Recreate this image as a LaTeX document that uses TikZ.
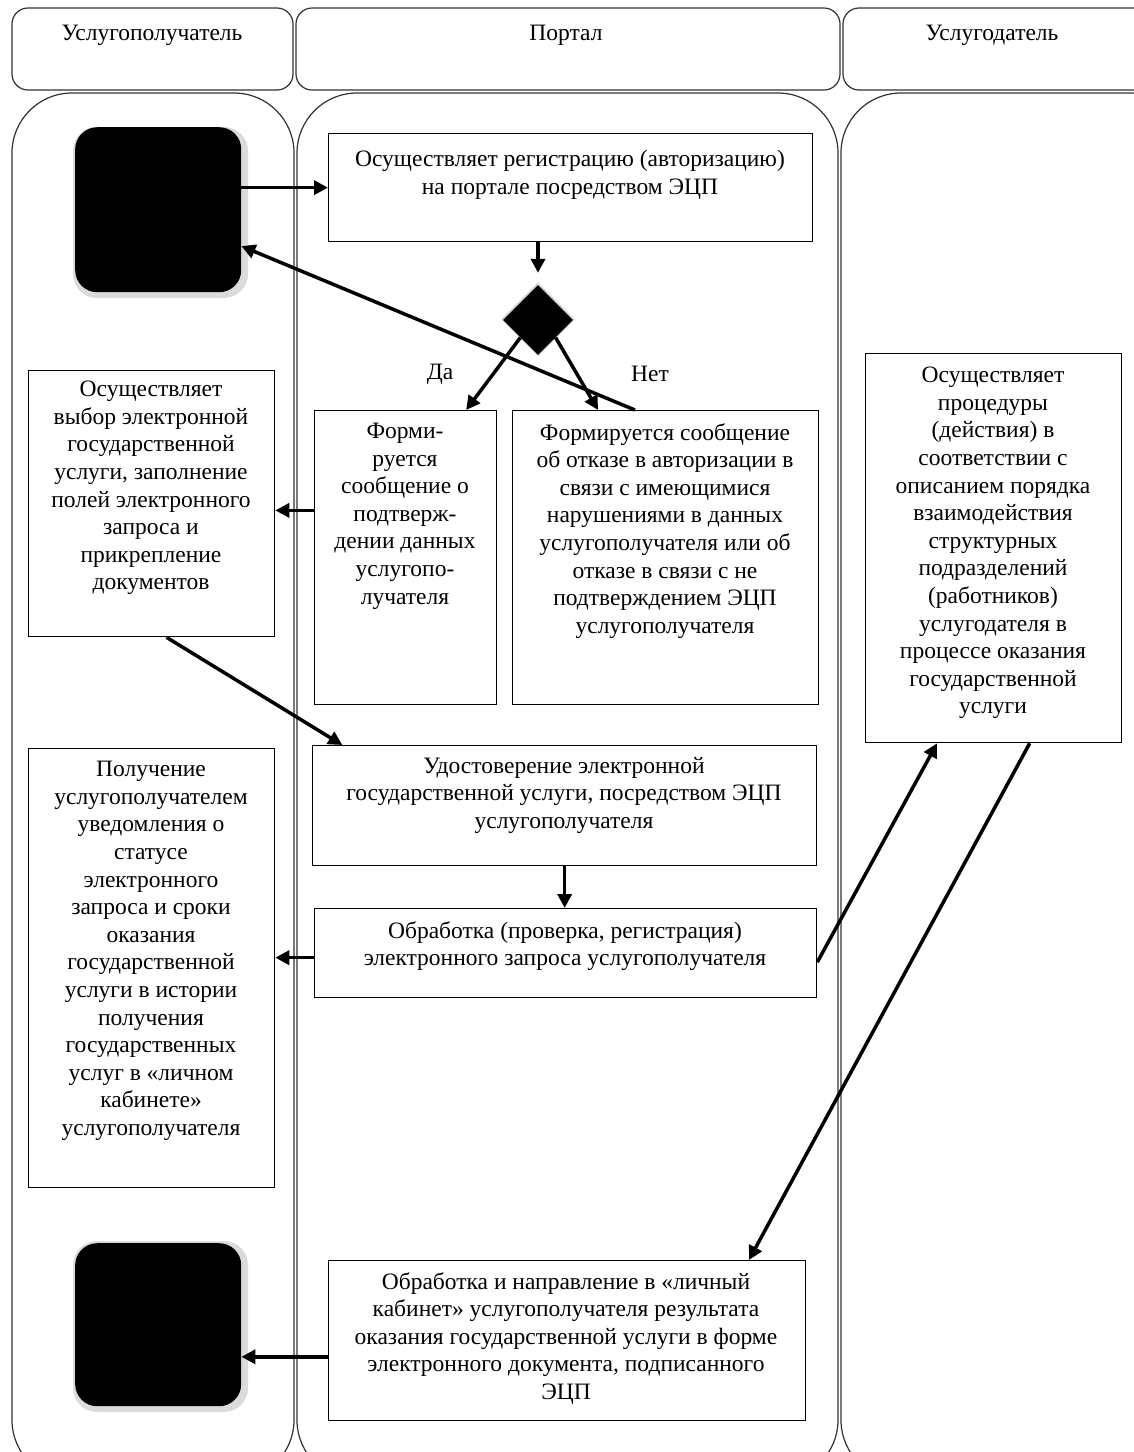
\documentclass[tikz,border=0pt]{standalone}
\usepackage{fontspec}
\setmainfont{Liberation Serif}
\usetikzlibrary{arrows.meta,calc,shapes.geometric}
\begin{document}
\begin{tikzpicture}[x=1pt,y=-1pt,
  lane/.style={draw=black!80, line width=1.2pt},
  box/.style={draw, line width=1.3pt, fill=white, inner sep=0, anchor=north west},
  txt/.style={align=center, font=\fontsize{23.5}{27.6}\selectfont, inner sep=0, anchor=north},
  hdr/.style={align=center, font=\fontsize{23.5}{27.6}\selectfont, inner sep=0},
  blk/.style={fill=black, rounded corners=22pt, inner sep=0, anchor=north west},
  shd/.style={fill=black!14, rounded corners=24pt},
  arr/.style={line width=3.5pt, -{Triangle[length=14pt,width=14pt]}}]
\useasboundingbox (0,0) rectangle (1134,1452);
\fill[white] (0,0) rectangle (1134,1452);
% header lanes
\draw[lane, rounded corners=16pt] (12,8) rectangle (293,90);
\draw[lane, rounded corners=16pt] (296,8) rectangle (840,90);
\draw[lane, rounded corners=16pt] (843,8) rectangle (1160,90);
\node[hdr] (h1) at (152,35) {Услугополучатель};
\node[hdr] (h2) at (566,35) {Портал};
\node[hdr] (h3) at (992,35) {Услугодатель};
% body lanes
\draw[lane, rounded corners=60pt] (12,93) rectangle (294,1480);
\draw[lane, rounded corners=60pt] (297,93) rectangle (838,1480);
\draw[lane, rounded corners=60pt] (841,93) rectangle (1190,1480);
% start / end squares
\fill[shd] (73,127) rectangle (248,298);
\node[blk, minimum width=166pt, minimum height=165pt] (sq1) at (75,127) {};
\fill[shd] (73,1241) rectangle (248,1412);
\node[blk, minimum width=166pt, minimum height=163pt] (sq2) at (75,1243) {};
% boxes
\node[box, minimum width=484pt, minimum height=108pt] (reg) at (328,133) {};
\node[txt] (regt) at (570,150) {Осуществляет регистрацию (авторизацию)\\на портале посредством ЭЦП};
\fill[black!14] (538,282) -- (575,319) -- (538,356) -- (501,319) -- cycle;
\node[diamond, fill=black, minimum width=70pt, minimum height=70pt, inner sep=0] (dia) at (538,320) {};
\node[hdr] (da) at (440,374) {Да};
\node[hdr] (net) at (650,374) {Нет};
\node[box, minimum width=182pt, minimum height=294pt] (dab) at (314,410) {};
\node[txt] (dabt) at (405,423) {Форми-\\руется\\сообщение о\\подтверж-\\дении данных\\услугопо-\\лучателя};
\node[box, minimum width=306pt, minimum height=294pt] (neb) at (512,410) {};
\node[txt] (nebt) at (665,423) {Формируется сообщение\\об отказе в авторизации в\\связи с имеющимися\\нарушениями в данных\\услугополучателя или об\\отказе в связи с не\\подтверждением ЭЦП\\услугополучателя};
\node[box, minimum width=246pt, minimum height=266pt] (sel) at (28,370) {};
\node[txt] (selt) at (151,381) {Осуществляет\\выбор электронной\\государственной\\услуги, заполнение\\полей электронного\\запроса и\\прикрепление\\документов};
\node[box, minimum width=256pt, minimum height=389pt] (proc) at (865,353) {};
\node[txt] (proct) at (993,367) {Осуществляет\\процедуры\\(действия) в\\соответствии с\\описанием порядка\\взаимодействия\\структурных\\подразделений\\(работников)\\услугодателя в\\процессе оказания\\государственной\\услуги};
\node[box, minimum width=504pt, minimum height=120pt] (ud) at (312,745) {};
\node[txt] (udt) at (564,757) {Удостоверение электронной\\государственной услуги, посредством ЭЦП\\услугополучателя};
\node[box, minimum width=502pt, minimum height=89pt] (obr) at (314,908) {};
\node[txt] (obrt) at (565,921) {Обработка (проверка, регистрация)\\электронного запроса услугополучателя};
\node[box, minimum width=246pt, minimum height=439pt] (rec) at (28,748) {};
\node[txt] (rect) at (151,761) {Получение\\услугополучателем\\уведомления о\\статусе\\электронного\\запроса и сроки\\оказания\\государственной\\услуги в истории\\получения\\государственных\\услуг в «личном\\кабинете»\\услугополучателя};
\node[box, minimum width=477pt, minimum height=160pt] (res) at (328,1260) {};
\node[txt] (rest) at (566,1272) {Обработка и направление в «личный\\кабинет» услугополучателя результата\\оказания государственной услуги в форме\\электронного документа, подписанного\\ЭЦП};
% connectors
\draw[arr] (sq1.east |- reg.west) -- (reg.west);
\draw[arr] (dia.north |- reg.south) -- ($(dia.north)+(0,-12)$);
\draw[arr] (dia.south west) -- ($(dab.north west)!0.83!(dab.north east)$);
\draw[arr] (dia.south east) -- ($(neb.north west)!0.28!(neb.north east)$);
\draw[arr] ($(neb.north west)!0.4!(neb.north east)$) -- ($(sq1.north east)!0.72!(sq1.south east)$);
\coordinate (c1) at ($(dab.north west)!0.34!(dab.south west)$);
\draw[arr] (c1) -- (sel.east |- c1);
\draw[arr] ($(sel.south west)!0.56!(sel.south east)$) -- ($(ud.north west)!0.06!(ud.north east)$);
\draw[arr] (ud.south) -- (ud.south |- obr.north);
\coordinate (c2) at ($(obr.north west)!0.55!(obr.south west)$);
\draw[arr] (c2) -- (rec.east |- c2);
\draw[arr] ($(obr.north east)!0.6!(obr.south east)$) -- ($(proc.south west)!0.28!(proc.south east)$);
\draw[arr] ($(proc.south west)!0.64!(proc.south east)$) -- ($(res.north west)!0.88!(res.north east)$);
\coordinate (c3) at ($(res.north west)!0.6!(res.south west)$);
\draw[arr] (c3) -- (sq2.east |- c3);
\end{tikzpicture}
\end{document}
